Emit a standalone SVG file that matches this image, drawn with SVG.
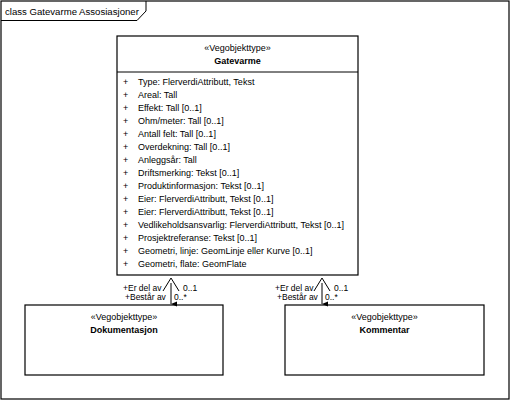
<svg xmlns="http://www.w3.org/2000/svg" width="510" height="400" viewBox="0 0 510 400">
  <style>
    text { font-family: "Liberation Sans", Arial, sans-serif; font-size: 9px; fill: #000; }
    .st { text-anchor: middle; }
    .nm { text-anchor: middle; font-weight: bold; }
    .lbl { font-size: 8.5px; }
    .box { fill: #fff; stroke: #000; stroke-width: 1.2; }
    .ln { fill: none; stroke: #000; stroke-width: 1; }
  </style>
  <defs>
    <marker id="tip" viewBox="0 0 6 6" refX="3" refY="6" markerWidth="6" markerHeight="6" orient="auto-start-reverse" markerUnits="userSpaceOnUse">
      <path d="M0.5,0 L3,6 L5.5,0 Z" fill="#000"/>
    </marker>
  </defs>
  <rect width="510" height="400" fill="#fff"/>

  <!-- diagram frame with title tab -->
  <g id="frame">
    <rect x="1" y="1" width="508" height="398" class="box"/>
    <path d="M1,20.5 H137 L146,11 V1" class="ln" stroke-width="1.2"/>
    <text x="5" y="14.5" style="font-size:9.6px">class Gatevarme Assosiasjoner</text>
  </g>

  <!-- main class -->
  <g id="gatevarme">
    <rect x="117" y="36" width="241" height="239" class="box"/>
    <line x1="117" y1="72" x2="358" y2="72" class="ln" stroke-width="1.2"/>
    <text x="237.5" y="51" class="st">«Vegobjekttype»</text>
    <text x="237.5" y="64" class="nm">Gatevarme</text>
    <g>
      <text x="123" y="85">+</text><text x="138" y="85">Type: FlerverdiAttributt, Tekst</text>
      <text x="123" y="98">+</text><text x="138" y="98">Areal: Tall</text>
      <text x="123" y="111">+</text><text x="138" y="111">Effekt: Tall [0..1]</text>
      <text x="123" y="124">+</text><text x="138" y="124">Ohm/meter: Tall [0..1]</text>
      <text x="123" y="137">+</text><text x="138" y="137">Antall felt: Tall [0..1]</text>
      <text x="123" y="150">+</text><text x="138" y="150">Overdekning: Tall [0..1]</text>
      <text x="123" y="163">+</text><text x="138" y="163">Anleggsår: Tall</text>
      <text x="123" y="176">+</text><text x="138" y="176">Driftsmerking: Tekst [0..1]</text>
      <text x="123" y="189">+</text><text x="138" y="189">Produktinformasjon: Tekst [0..1]</text>
      <text x="123" y="202">+</text><text x="138" y="202">Eier: FlerverdiAttributt, Tekst [0..1]</text>
      <text x="123" y="215">+</text><text x="138" y="215">Eier: FlerverdiAttributt, Tekst [0..1]</text>
      <text x="123" y="228">+</text><text x="138" y="228">Vedlikeholdsansvarlig: FlerverdiAttributt, Tekst [0..1]</text>
      <text x="123" y="241">+</text><text x="138" y="241">Prosjektreferanse: Tekst [0..1]</text>
      <text x="123" y="254">+</text><text x="138" y="254">Geometri, linje: GeomLinje eller Kurve [0..1]</text>
      <text x="123" y="267">+</text><text x="138" y="267">Geometri, flate: GeomFlate</text>
    </g>
  </g>

  <g id="dokumentasjon">
    <rect x="25" y="305" width="198" height="70" class="box"/>
    <text x="124" y="320" class="st">«Vegobjekttype»</text>
    <text x="124" y="333" class="nm">Dokumentasjon</text>
  </g>

  <g id="kommentar">
    <rect x="285" y="305" width="199" height="70" class="box"/>
    <text x="384.5" y="320" class="st">«Vegobjekttype»</text>
    <text x="384.5" y="333" class="nm">Kommentar</text>
  </g>

  <!-- associations -->
  <g id="connectors">
    <g>
      <path d="M171,283 V304" class="ln" marker-end="url(#tip)"/>
      <path d="M163,291 L171,278 L179,291" class="ln"/>
      <text x="125" y="300" class="lbl">+Består av</text>
      <text x="174" y="300" class="lbl">0..*</text>
      <text x="123" y="290.5" class="lbl">+Er del av</text>
      <text x="183" y="290.5" class="lbl">0..1</text>
    </g>
    <g>
      <path d="M322,283 V304" class="ln" marker-end="url(#tip)"/>
      <path d="M314,291 L322,278 L330,291" class="ln"/>
      <text x="277" y="300" class="lbl">+Består av</text>
      <text x="325" y="300" class="lbl">0..*</text>
      <text x="275" y="290.5" class="lbl">+Er del av</text>
      <text x="334" y="290.5" class="lbl">0..1</text>
    </g>
  </g>
</svg>
